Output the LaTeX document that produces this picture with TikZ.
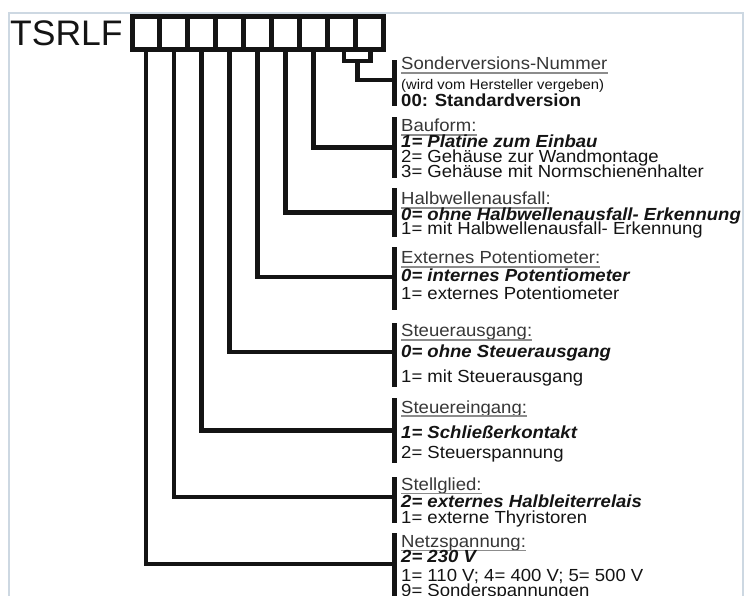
\documentclass[tikz,border=0pt]{standalone}
\usepackage{fontspec}
\setmainfont{Liberation Sans}
\newfontfamily\labelfont[FakeStretch=1.06]{Liberation Sans}
\definecolor{ink}{HTML}{141414}
\definecolor{framecol}{HTML}{CDD8E2}
\definecolor{ulcol}{HTML}{8C8C8C}
\tikzset{
  x=1pt, y=-1pt,
  cell/.style={draw=ink, line width=5pt, minimum width=27.9pt, minimum height=33pt, inner sep=0pt},
  bar/.style={fill=ink, minimum width=5pt, inner sep=0pt},
  link/.style={draw=ink, line width=4.6pt, line join=miter, line cap=rect},
  txt/.style={anchor=base west, inner sep=0pt, text=ink, font=\labelfont\fontsize{17.5}{17.5}\selectfont},
  head/.style={txt, text=ink!85},
  opt/.style={txt, font=\labelfont\fontsize{17.5}{17.5}\selectfont\bfseries\itshape},
  small/.style={txt, font=\labelfont\fontsize{14}{14}\selectfont},
  std/.style={txt, font=\labelfont\fontsize{17.5}{17.5}\selectfont\bfseries},
  uline/.style={draw=ulcol, line width=1.2pt}
}
\newcommand{\headline}[3]{%
  \node[head] (#1) at (401,#2) {#3};
  \draw[uline] ([yshift=-3pt]#1.base west) -- ([yshift=-3pt]#1.base east);}
\begin{document}
\begin{tikzpicture}
\useasboundingbox (0,0) rectangle (745,596);
\fill[white] (0,0) rectangle (745,596);
% light frame round the sheet
\draw[framecol, line width=2pt] (9,600) -- (9,13) -- (743,13) -- (743,600);

% type code
\node[anchor=base west, inner sep=0pt, text=ink, font=\fontsize{35.5}{36}\selectfont] (code) at (10,46) {TSRLF};
\foreach \k in {1,...,9}
  \node[cell] (c\k) at ({132+27.9*(\k-0.5)},33) {};

% bracket bars
\node[bar, minimum height=46pt] (s1) at (394.5,83) {};
\node[bar, minimum height=61pt] (s2) at (394.5,147.5) {};
\node[bar, minimum height=49pt] (s3) at (394.5,212.5) {};
\node[bar, minimum height=63pt] (s4) at (394.5,278.5) {};
\node[bar, minimum height=64pt] (s5) at (394.5,355) {};
\node[bar, minimum height=65pt] (s6) at (394.5,430.5) {};
\node[bar, minimum height=46pt] (s7) at (394.5,500) {};
\node[bar, minimum height=64pt] (s8) at (394.5,565) {};

% two-digit special version field
\coordinate (ul) at (344,49.5);
\coordinate (ur) at (370.6,49.5);
\coordinate (um) at (357.5,61);
\draw[link] (ul) |- (ur |- um) -- (ur);
\draw[link] (um) |- (s1.west |- 0,80);

% connectors from the code positions to their brackets
\draw[link] (c7.south) |- (s2.west);
\draw[link] (c6.south) |- (s3.west);
\draw[link] (c5.south) |- ([yshift=1.5pt]s4.west);
\draw[link] (c4.south) |- ([yshift=3pt]s5.west);
\draw[link] (c3.south) |- (s6.west);
\draw[link] (c2.south) |- ([yshift=3pt]s7.west);
\draw[link] (c1.south) |- ([yshift=1pt]s8.west);

% Sonderversion
\headline{h1}{70}{Sonderversions-Nummer}
\node[small] (t11) at (401,90) {(wird vom Hersteller vergeben)};
\node[std] (t12) at (401,107) {00: Standardversion};

% Bauform
\headline{h2}{132}{Bauform:}
\node[opt] (t21) at (401,148) {1= Platine zum Einbau};
\node[txt] (t22) at (401,163) {2= Gehäuse zur Wandmontage};
\node[txt] (t23) at (401,178) {3= Gehäuse mit Normschienenhalter};

% Halbwellenausfall
\headline{h3}{205}{Halbwellenausfall:}
\node[opt] (t31) at (401,220.5) {0= ohne Halbwellenausfall- Erkennung};
\node[txt] (t32) at (401,235) {1= mit Halbwellenausfall- Erkennung};

% Externes Potentiometer
\headline{h4}{264}{Externes Potentiometer:}
\node[opt] (t41) at (401,282) {0= internes Potentiometer};
\node[txt] (t42) at (401,300) {1= externes Potentiometer};

% Steuerausgang
\headline{h5}{337}{Steuerausgang:}
\node[opt] (t51) at (401,358) {0= ohne Steuerausgang};
\node[txt] (t52) at (401,382) {1= mit Steuerausgang};

% Steuereingang
\headline{h6}{413}{Steuereingang:}
\node[opt] (t61) at (401,438) {1= Schließerkontakt};
\node[txt] (t62) at (401,458) {2= Steuerspannung};

% Stellglied
\headline{h7}{490.5}{Stellglied:}
\node[opt] (t71) at (401,507) {2= externes Halbleiterrelais};
\node[txt] (t72) at (401,523) {1= externe Thyristoren};

% Netzspannung
\headline{h8}{547.5}{Netzspannung:}
\node[opt] (t81) at (401,562) {2= 230 V};
\node[txt] (t82) at (401,581) {1= 110 V; 4= 400 V; 5= 500 V};
\node[txt] (t83) at (401,596) {9= Sonderspannungen};
\end{tikzpicture}
\end{document}
